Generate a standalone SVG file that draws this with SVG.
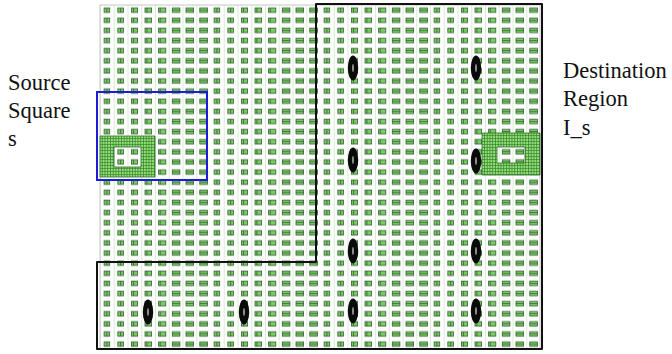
<svg xmlns="http://www.w3.org/2000/svg" width="672" height="354" viewBox="0 0 672 354">
  <style>
    .lbl { font-family: "Liberation Serif", "DejaVu Serif", serif; font-size: 22.5px; fill: #111; }
    .cell { fill: #78cc62; stroke: #365f36; stroke-width: 0.8; }
    .mid { stroke: #365f36; stroke-width: 0.8; }
    .sep { stroke: #d8f0d2; stroke-width: 1; }
    .dot { fill: #0a0a0a; }
    .slit { fill: #c8c8c8; }
  </style>
  <defs>
    <pattern id="cells" patternUnits="userSpaceOnUse" x="100" y="5" width="110" height="10.12">
      <rect width="110" height="10.12" fill="#fdfefd"/>
      <line class="sep" x1="0.5" y1="0" x2="0.5" y2="10.12"/>
      <line class="sep" x1="14.25" y1="0" x2="14.25" y2="10.12"/>
      <line class="sep" x1="28" y1="0" x2="28" y2="10.12"/>
      <line class="sep" x1="41.75" y1="0" x2="41.75" y2="10.12"/>
      <line class="sep" x1="55.5" y1="0" x2="55.5" y2="10.12"/>
      <line class="sep" x1="69.25" y1="0" x2="69.25" y2="10.12"/>
      <line class="sep" x1="83" y1="0" x2="83" y2="10.12"/>
      <line class="sep" x1="96.75" y1="0" x2="96.75" y2="10.12"/>
      <rect class="cell" x="4.1" y="2.9" width="5.6" height="4.5"/>
      <line class="mid" x1="6.9" y1="2.9" x2="6.9" y2="7.4"/>
      <rect class="cell" x="17.85" y="2.9" width="5.6" height="4.5"/>
      <line class="mid" x1="20.65" y1="2.9" x2="20.65" y2="7.4"/>
      <rect class="cell" x="31.4" y="2.9" width="6.2" height="4.5"/>
      <line class="mid" x1="33.6" y1="2.9" x2="33.6" y2="7.4"/>
      <rect class="cell" x="45" y="2.9" width="6.6" height="4.5"/>
      <line class="mid" x1="46.9" y1="2.9" x2="46.9" y2="7.4"/>
      <rect class="cell" x="58.6" y="2.9" width="7.2" height="4.5"/>
      <line class="mid" x1="60.2" y1="2.9" x2="60.2" y2="7.4"/>
      <rect class="cell" x="72.3" y="2.9" width="7.6" height="4.5"/>
      <line class="mid" x1="72.3" y1="5.15" x2="79.9" y2="5.15"/>
      <rect class="cell" x="86" y="2.9" width="7.6" height="4.5"/>
      <line class="mid" x1="86" y1="5.15" x2="93.6" y2="5.15"/>
      <rect class="cell" x="99.8" y="2.9" width="7.6" height="4.5"/>
      <line class="mid" x1="99.8" y1="5.15" x2="107.4" y2="5.15"/>
    </pattern>
    <pattern id="mesh" patternUnits="userSpaceOnUse" x="0" y="0" width="2.75" height="3">
      <rect width="2.75" height="3" fill="#8fe070"/>
      <line x1="0.4" y1="0" x2="0.4" y2="3" stroke="#2b6e2b" stroke-width="0.7"/>
      <line x1="0" y1="0.4" x2="2.75" y2="0.4" stroke="#2b6e2b" stroke-width="0.6"/>
    </pattern>
  </defs>

  <rect width="672" height="354" fill="#ffffff"/>

  <g id="grid">
    <rect x="100" y="5" width="440" height="344" fill="url(#cells)" stroke="#c8c8c8" stroke-width="1"/>
  </g>

  <g id="source-patch">
    <path d="M100,136 H155 V177 H100 Z M114,147 V167 H141 V147 Z" fill="url(#mesh)" fill-rule="evenodd" stroke="#2b6e2b" stroke-width="0.8"/>
  </g>

  <g id="destination-patch">
    <path d="M482,133 H540 V175 H482 Z M497,147 V163 H525 V147 Z" fill="url(#mesh)" fill-rule="evenodd" stroke="#2b6e2b" stroke-width="0.8"/>
  </g>

  <g id="destination-region">
    <path d="M316,4 H542 V349 H97 V262 H316 Z" fill="none" stroke="#111" stroke-width="2" stroke-linejoin="round"/>
  </g>

  <g id="source-square">
    <rect x="97" y="92" width="110" height="88" fill="none" stroke="#1c1cd8" stroke-width="2"/>
  </g>

  <g id="markers">
    <g id="m1"><ellipse class="dot" cx="353" cy="68" rx="5.2" ry="12.5"/><ellipse class="slit" cx="353" cy="68" rx="0.7" ry="4"/></g>
    <g id="m2"><ellipse class="dot" cx="476" cy="68" rx="5.2" ry="12.5"/><ellipse class="slit" cx="476" cy="68" rx="0.7" ry="4"/></g>
    <g id="m3"><ellipse class="dot" cx="353" cy="160" rx="5.2" ry="12.5"/><ellipse class="slit" cx="353" cy="160" rx="0.7" ry="4"/></g>
    <g id="m4"><ellipse class="dot" cx="476" cy="161" rx="5.2" ry="12.5"/><ellipse class="slit" cx="476" cy="161" rx="0.7" ry="4"/></g>
    <g id="m5"><ellipse class="dot" cx="353" cy="251" rx="5.2" ry="12.5"/><ellipse class="slit" cx="353" cy="251" rx="0.7" ry="4"/></g>
    <g id="m6"><ellipse class="dot" cx="476" cy="251" rx="5.2" ry="12.5"/><ellipse class="slit" cx="476" cy="251" rx="0.7" ry="4"/></g>
    <g id="m7"><ellipse class="dot" cx="148" cy="312" rx="5.2" ry="12.5"/><ellipse class="slit" cx="148" cy="312" rx="0.7" ry="4"/></g>
    <g id="m8"><ellipse class="dot" cx="244" cy="312" rx="5.2" ry="12.5"/><ellipse class="slit" cx="244" cy="312" rx="0.7" ry="4"/></g>
    <g id="m9"><ellipse class="dot" cx="353" cy="311" rx="5.2" ry="12.5"/><ellipse class="slit" cx="353" cy="311" rx="0.7" ry="4"/></g>
    <g id="m10"><ellipse class="dot" cx="476" cy="311" rx="5.2" ry="12.5"/><ellipse class="slit" cx="476" cy="311" rx="0.7" ry="4"/></g>
  </g>

  <g id="label-source">
    <text class="lbl" x="8" y="90">Source</text>
    <text class="lbl" x="8" y="118">Square</text>
    <text class="lbl" x="8" y="146">s</text>
  </g>

  <g id="label-destination">
    <text class="lbl" x="563" y="78">Destination</text>
    <text class="lbl" x="563" y="106">Region</text>
    <text class="lbl" x="563" y="135">I_s</text>
  </g>
</svg>
